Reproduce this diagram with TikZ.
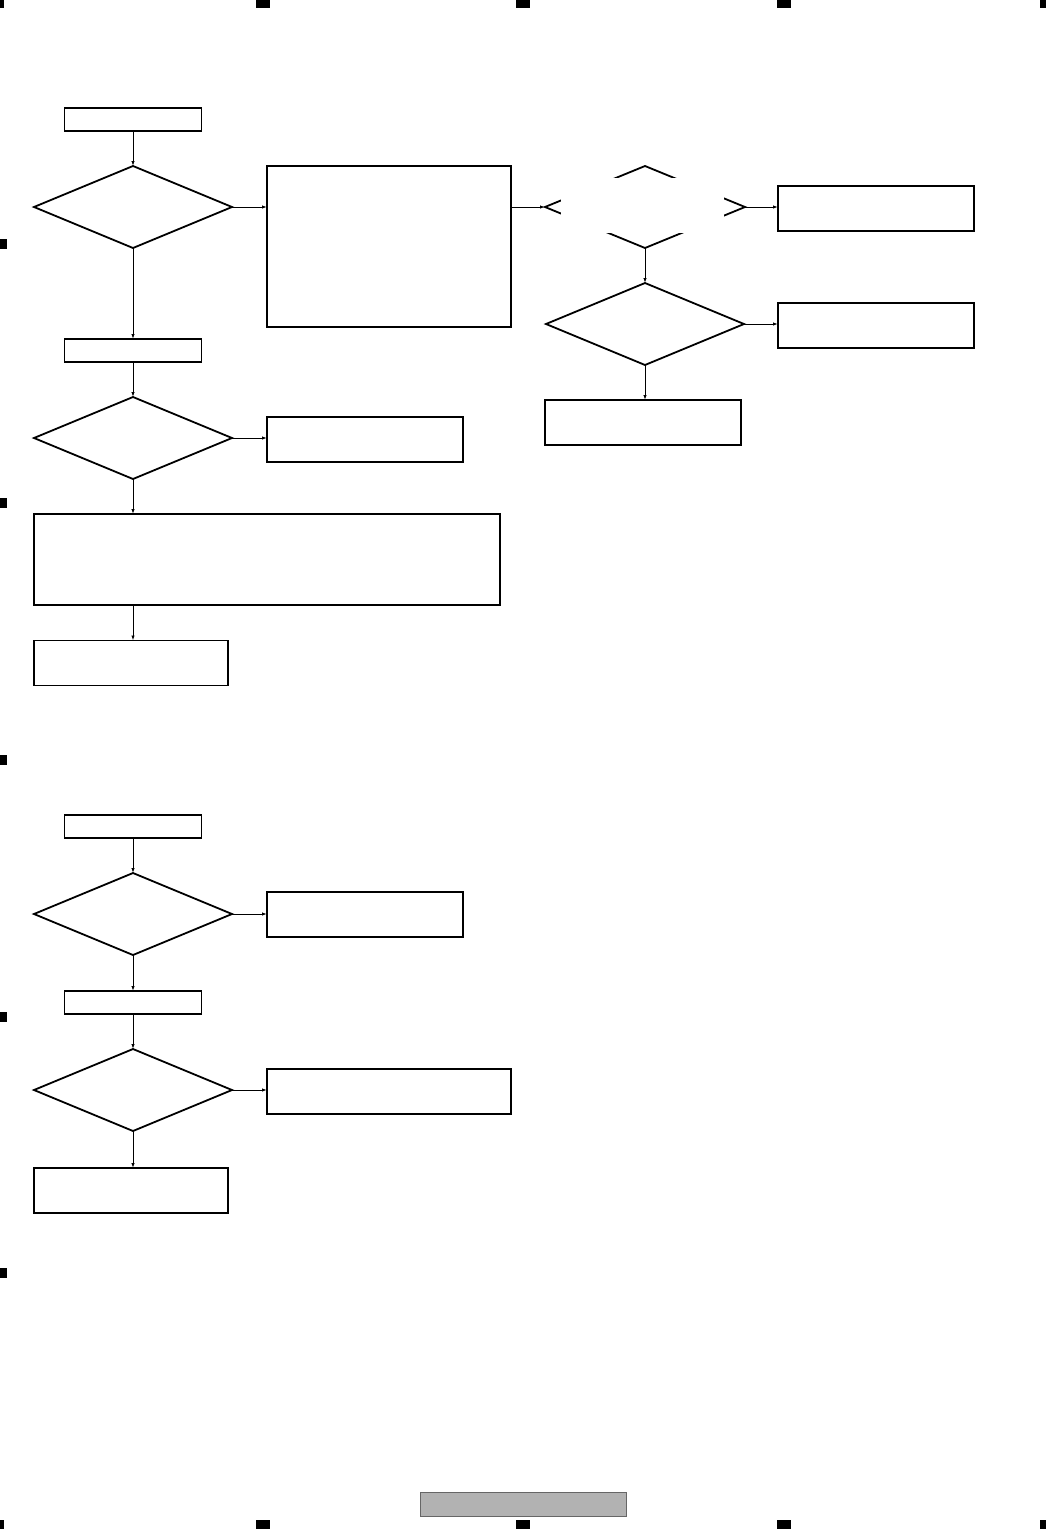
\documentclass[tikz,border=0pt]{standalone}
\usetikzlibrary{shapes.geometric,arrows.meta}
\begin{document}
\begin{tikzpicture}[x=1pt,y=-1pt,
  stepbox/.style={draw,line width=1.8pt,inner sep=0pt,outer sep=0pt},
  smallbox/.style={stepbox,minimum width=137pt,minimum height=23pt},
  midbox/.style={stepbox,minimum width=196pt,minimum height=45pt},
  widebox/.style={stepbox,minimum width=244pt,minimum height=45pt},
  query/.style={diamond,draw,line width=1.8pt,inner sep=0pt,outer sep=0pt,minimum width=198pt,minimum height=82pt},
  flow/.style={-{Latex[length=5pt,width=3.4pt]},line width=0.9pt}]
\useasboundingbox (0,0) rectangle (1046,1529);
% first chart
\node[smallbox] (start1) at (133,119.5) {};
\node[query] (dec1) at (133,207) {};
\node[stepbox,minimum width=244pt,minimum height=161pt] (note1) at (389,246.5) {};
\node[smallbox] (chk1) at (133,350.5) {};
\node[query] (dec2) at (133,438) {};
\node[midbox] (res2) at (365,439.5) {};
\node[stepbox,minimum width=466pt,minimum height=91pt] (note2) at (267,559.5) {};
\node[midbox,minimum width=194pt] (end1) at (131,663) {};
\node[query,minimum width=200pt] (dec3) at (645,207) {};
\fill[white] (561,178) rectangle (724,233);
\node[midbox] (res3) at (876,208.5) {};
\node[query] (dec4) at (645,324) {};
\node[midbox] (res4) at (876,325.5) {};
\node[midbox] (end3) at (643,422.5) {};
\draw[flow] (start1) -- (dec1);
\draw[flow] (dec1.east) -- (dec1.east -| note1.west);
\draw[flow] (dec1) -- (chk1);
\draw[flow] (chk1) -- (dec2);
\draw[flow] (dec2.east) -- (dec2.east -| res2.west);
\draw[flow] (dec2.south) -- (dec2.south |- note2.north);
\draw[flow] (dec2.south |- note2.south) -- (dec2.south |- end1.north);
\draw[flow] (note1.east |- dec3.west) -- (dec3.west);
\draw[flow] (dec3.east) -- (dec3.east -| res3.west);
\draw[flow] (dec3) -- (dec4);
\draw[flow] (dec4.east) -- (dec4.east -| res4.west);
\draw[flow] (dec4.south) -- (dec4.south |- end3.north);
% second chart
\node[smallbox] (start2) at (133,826.5) {};
\node[query] (dec5) at (133,914) {};
\node[midbox] (res5) at (365,914.5) {};
\node[smallbox] (chk2) at (133,1002.5) {};
\node[query] (dec6) at (133,1090) {};
\node[widebox] (res6) at (389,1091.5) {};
\node[midbox,minimum width=194pt] (end2) at (131,1190.5) {};
\draw[flow] (start2) -- (dec5);
\draw[flow] (dec5.east) -- (dec5.east -| res5.west);
\draw[flow] (dec5) -- (chk2);
\draw[flow] (chk2) -- (dec6);
\draw[flow] (dec6.east) -- (dec6.east -| res6.west);
\draw[flow] (dec6.south) -- (dec6.south |- end2.north);
% page furniture
\node[draw=black!60,fill=black!30,line width=0.8pt,inner sep=0pt,minimum width=206pt,minimum height=24pt] (footer) at (523,1504) {};
\foreach \x in {262.5,523,784} {
  \fill (\x-7,0) rectangle (\x+7,8);
  \fill (\x-7,1520) rectangle (\x+7,1529);
}
\fill (0,0) rectangle (4,8);
\fill (1040,0) rectangle (1046,8);
\fill (0,1520) rectangle (4,1529);
\fill (1040,1520) rectangle (1046,1529);
\foreach \y in {244,503,760,1017,1273}
  \fill (0,\y-5) rectangle (7,\y+5);
\end{tikzpicture}
\end{document}
